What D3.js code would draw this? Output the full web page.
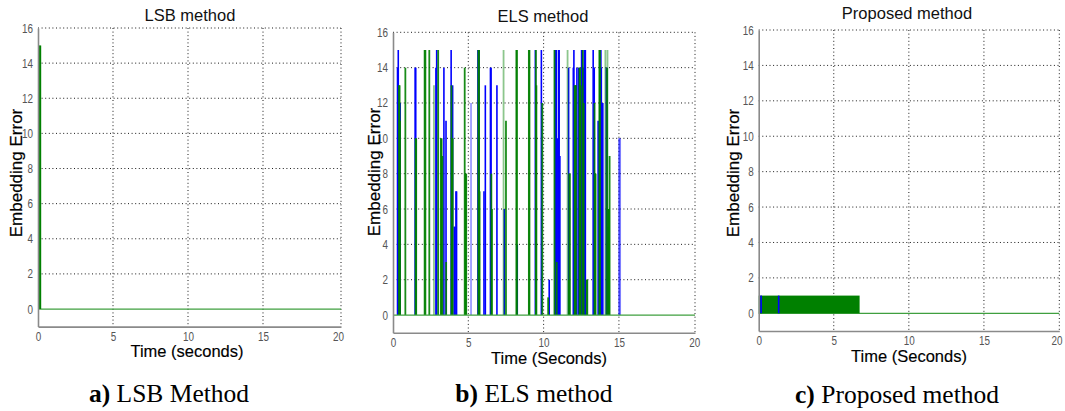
<!DOCTYPE html>
<html><head><meta charset="utf-8">
<script src="https://cdn.jsdelivr.net/npm/d3@7"></script>
<style>body{margin:0;background:#fff}svg{display:block}</style>
</head><body>
<svg id="chart" width="1065" height="411"></svg>
<script>
// ---------------- DATA ----------------
const xTicks = [0, 5, 10, 15, 20];
const yTicks = [0, 2, 4, 6, 8, 10, 12, 14, 16];
const panelTitles = ["LSB method", "ELS method", "Proposed method"];
const xLabels = ["Time (seconds)", "Time (Seconds)", "Time (Seconds)"];
const yLabel = "Embedding Error";
const captionLetters = ["a)", "b)", "c)"];
const captionTexts = [" LSB Method", " ELS method", " Proposed method"];

// a) LSB method: green spike at start
const lsbTimes  = [0.10, 0.16];
const lsbValues = [15, 15];

// b) ELS method
const elsBlueTimes  = [0.30,0.35,0.48,1.47,1.51,2.85,2.90,3.38,3.52,3.86,3.96,4.07,4.11,4.18,4.22,5.64,5.72,6.04,6.13,6.47,6.51,6.90,7.39,8.25,9.45,9.85,10.37,10.77,10.81,10.85,10.90,11.00,11.03,11.08,11.66,11.97,12.01,12.16,12.21,12.33,12.52,12.56,12.63,12.70,12.77,13.29,13.36,13.62,13.76,13.80,13.83,13.93,14.16,14.20,14.27];
const elsBlueValues = [14,15,12,14,14,14,15,14,11,15,13,5,5,7,7,15,15,7,13,14,14,13,6,4,15,15,2,15,15,15,10,15,15,9,14,14,15,13,14,14,15,15,14,15,15,15,14,11,15,15,14,12,14,14,5];
const elsBlueFaintTimes  = [5.18, 15.00, 15.04, 15.08];
const elsBlueFaintValues = [12, 10, 10, 10];
const elsGreenTimes  = [0.40,0.44,0.47,0.82,1.50,1.54,2.10,2.15,2.41,3.00,3.18,3.23,3.28,3.53,3.88,3.92,3.96,4.76,4.82,4.86,5.67,5.71,5.75,6.53,6.57,7.50,8.19,8.23,9.02,9.06,9.49,9.52,9.91,10.30,10.72,10.87,11.68,11.71,11.74,12.06,12.10,12.14,12.38,12.42,12.46,12.60,12.66,12.86,12.90,13.38,13.41,13.45,13.70,13.74,14.21,14.30,14.34,14.38];
const elsGreenValues = [13,13,11,14,10,10,15,15,15,15,10,10,9,3,13,10,10,14,8,8,15,15,7,8,6,11,15,15,15,15,15,13,12,1,15,3,2,8,8,13,13,13,14,14,13,15,12,2,2,12,8,8,15,15,14,6,6,9];
const elsGreenFaintTimes  = [2.72, 7.34, 11.59, 14.10, 14.24];
const elsGreenFaintValues = [13, 15, 15, 15, 15];

// c) Proposed method
const propGreenBlock = [0, 6.72];   // time span of the green block
const propGreenValue = 1;
const propBlueTimes  = [0.16, 1.33];
const propBlueValues = [1, 1];

// ---------------- LAYOUT ----------------
const layout = [
  {left:38,    right:341,    top:28,   bottom:326.6, xMax:20.2,  titleX:190, titleY:21, ylabX:22,  ylabY:173, xlabX:187, xlabY:357, capX:169, capY:402},
  {left:393,   right:695,    top:32.3, bottom:332.7, xMax:20.05, titleX:543, titleY:22, ylabX:380, ylabY:172, xlabX:549, xlabY:364, capX:534, capY:402},
  {left:758.7, right:1059.3, top:30,   bottom:331,   xMax:20.02, titleX:907, titleY:19, ylabX:739, ylabY:173, xlabX:909, xlabY:362, capX:897, capY:403}
];
const GREEN = "#008000", BLUE = "#0000ff";
const SANS = "Liberation Sans, Arial, sans-serif";

const svg = d3.select("#chart");

function drawPanel(i) {
  const L = layout[i];
  const x = d3.scaleLinear().domain([0, L.xMax]).range([L.left, L.right]);
  const y = d3.scaleLinear().domain([-1, 16]).range([L.bottom, L.top]);
  const g = svg.append("g");

  const grid = g.append("g").attr("stroke", "#1a1a1a").attr("stroke-width", 1)
    .attr("stroke-dasharray", "1,2.6").attr("fill", "none");
  xTicks.filter(t => t > 0 && t < 20).forEach(t => {
    grid.append("line").attr("x1", x(t)).attr("x2", x(t)).attr("y1", L.top).attr("y2", L.bottom);
  });
  yTicks.filter(t => t > 0).forEach(t => {
    grid.append("line").attr("x1", L.left).attr("x2", L.right).attr("y1", y(t)).attr("y2", y(t));
  });
  grid.append("line").attr("x1", L.right).attr("x2", L.right).attr("y1", L.top).attr("y2", L.bottom);

  return {g, x, y, L};
}

function finishPanel(p, i) {
  const {g, x, y, L} = p;
  const ax = d3.axisBottom(x).tickValues(xTicks).tickSize(0).tickPadding(0).tickFormat(d3.format("d"));
  const xa = g.append("g").attr("transform", `translate(0,${L.bottom})`).call(ax);
  const ay = d3.axisLeft(y).tickValues(yTicks).tickSize(0).tickPadding(5).tickFormat(d3.format("d"));
  const ya = g.append("g").attr("transform", `translate(${L.left},0)`).call(ay);
  [xa, ya].forEach(a => {
    a.select(".domain").attr("stroke", "#8a8a8a").attr("stroke-width", 1.6);
    a.selectAll("text").attr("fill", "#555").attr("font-family", SANS)
      .attr("font-size", 12.5)
      .attr("textLength", function(){ return this.textContent.length * 5.5; })
      .attr("lengthAdjust", "spacingAndGlyphs");
  });
  xa.selectAll("text").attr("dy", null).attr("y", 14)
    .attr("dx", d => (i === 2 && d === 20) ? -2.5 : 0);
  g.append("text").attr("x", L.titleX).attr("y", L.titleY).attr("text-anchor", "middle")
    .attr("font-family", SANS).attr("font-size", 16.5).attr("fill", "#111")
    .text(panelTitles[i]);
  g.append("text").attr("transform", `translate(${L.ylabX},${L.ylabY}) rotate(-90)`).attr("text-anchor", "middle")
    .attr("font-family", SANS).attr("font-size", 17).attr("fill", "#000")
    .attr("stroke", "#000").attr("stroke-width", 0.2)
    .text(yLabel);
  g.append("text").attr("x", L.xlabX).attr("y", L.xlabY).attr("text-anchor", "middle")
    .attr("font-family", SANS).attr("font-size", 16.5).attr("fill", "#000")
    .attr("stroke", "#000").attr("stroke-width", 0.15)
    .text(xLabels[i]);
  const cap = g.append("text").attr("x", L.capX).attr("y", L.capY).attr("text-anchor", "middle")
    .attr("font-family", "Liberation Serif, Times New Roman, serif").attr("font-size", 25.5).attr("fill", "#000");
  cap.append("tspan").attr("font-weight", "bold").text(captionLetters[i]);
  cap.append("tspan").text(captionTexts[i]);
}

function spikes(p, times, values, color, width, opacity) {
  const {g, x, y} = p;
  g.append("g").selectAll("line").data(times.map((t, k) => [t, values[k]])).join("line")
    .attr("x1", d => x(d[0])).attr("x2", d => x(d[0]))
    .attr("y1", y(0)).attr("y2", d => y(d[1]))
    .attr("stroke", color).attr("stroke-width", width).attr("stroke-opacity", opacity);
}
function baseline(p) {
  const {g, x, y, L} = p;
  g.append("line").attr("x1", L.left).attr("x2", L.right).attr("y1", y(0)).attr("y2", y(0))
    .attr("stroke", "#3f9f3f").attr("stroke-width", 1.2);
}

// Panel a
const pa = drawPanel(0);
baseline(pa);
spikes(pa, lsbTimes, lsbValues, GREEN, 1.6, 1);
finishPanel(pa, 0);

// Panel b
const pb = drawPanel(1);
spikes(pb, elsBlueFaintTimes, elsBlueFaintValues, BLUE, 1.8, 0.4);
spikes(pb, elsBlueTimes, elsBlueValues, BLUE, 1.6, 1);
spikes(pb, elsGreenFaintTimes, elsGreenFaintValues, GREEN, 1.8, 0.45);
spikes(pb, elsGreenTimes, elsGreenValues, GREEN, 1.8, 0.9);
baseline(pb);
finishPanel(pb, 1);

// Panel c
const pc = drawPanel(2);
baseline(pc);
pc.g.append("rect")
  .attr("x", pc.x(propGreenBlock[0])).attr("width", pc.x(propGreenBlock[1]) - pc.x(propGreenBlock[0]))
  .attr("y", pc.y(propGreenValue)).attr("height", pc.y(0) - pc.y(propGreenValue))
  .attr("fill", GREEN);
spikes(pc, propBlueTimes, propBlueValues, BLUE, 1.6, 1);
finishPanel(pc, 2);
</script>
</body></html>
